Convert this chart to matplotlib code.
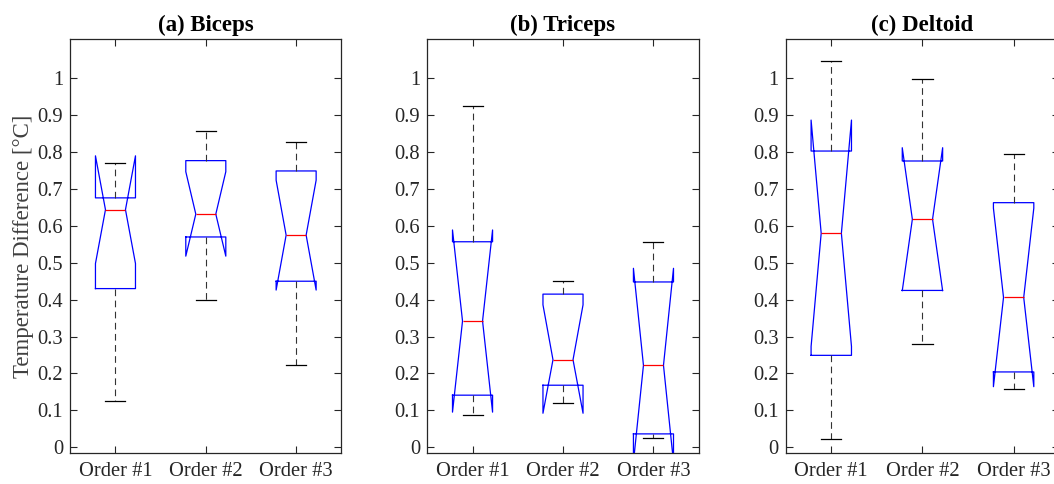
import matplotlib.pyplot as plt

plt.rcParams['font.family'] = ['Liberation Serif', 'DejaVu Serif']

# --- Box statistics per muscle (Order #1, #2, #3) ---
titles = ['(a) Biceps', '(b) Triceps', '(c) Deltoid']
orders = ['Order #1', 'Order #2', 'Order #3']

biceps_q1 = [0.430, 0.570, 0.450]
biceps_med = [0.644, 0.632, 0.575]
biceps_q3 = [0.676, 0.777, 0.749]
biceps_lo = [0.125, 0.398, 0.224]
biceps_hi = [0.770, 0.857, 0.827]
biceps_cilo = [0.498, 0.518, 0.426]
biceps_cihi = [0.790, 0.747, 0.724]

triceps_q1 = [0.141, 0.168, 0.036]
triceps_med = [0.342, 0.237, 0.222]
triceps_q3 = [0.557, 0.415, 0.448]
triceps_lo = [0.086, 0.121, 0.024]
triceps_hi = [0.926, 0.451, 0.555]
triceps_cilo = [0.095, 0.092, -0.041]
triceps_cihi = [0.589, 0.386, 0.485]

deltoid_q1 = [0.249, 0.425, 0.204]
deltoid_med = [0.580, 0.618, 0.406]
deltoid_q3 = [0.803, 0.776, 0.663]
deltoid_lo = [0.023, 0.279, 0.157]
deltoid_hi = [1.048, 0.999, 0.795]
deltoid_cilo = [0.273, 0.424, 0.164]
deltoid_cihi = [0.887, 0.812, 0.648]

yticks = [0, 0.1, 0.2, 0.3, 0.4, 0.5, 0.6, 0.7, 0.8, 0.9, 1]
ytick_labels = ['0', '0.1', '0.2', '0.3', '0.4', '0.5', '0.6', '0.7', '0.8', '0.9', '1']

panels = [
    (biceps_q1, biceps_med, biceps_q3, biceps_lo, biceps_hi, biceps_cilo, biceps_cihi),
    (triceps_q1, triceps_med, triceps_q3, triceps_lo, triceps_hi, triceps_cilo, triceps_cihi),
    (deltoid_q1, deltoid_med, deltoid_q3, deltoid_lo, deltoid_hi, deltoid_cilo, deltoid_cihi),
]

dark = '#262626'
W, H = 1054, 484
fig = plt.figure(figsize=(W / 100, H / 100), dpi=100)

# axes rectangles in pixels; the last one runs a little past the right edge
lefts = [70.3, 427.3, 785.7]
widths = [271.0, 271.4, 273.5]
top, bottom = 39.3, 452.7

for i, (q1, med, q3, lo, hi, cilo, cihi) in enumerate(panels):
    ax = fig.add_axes([lefts[i] / W, 1 - bottom / H, widths[i] / W, (bottom - top) / H])
    stats = []
    for k in range(3):
        stats.append(dict(q1=q1[k], med=med[k], q3=q3[k], whislo=lo[k],
                          whishi=hi[k], cilo=cilo[k], cihi=cihi[k], fliers=[]))
    ax.bxp(stats, positions=[1, 2, 3], widths=0.443, shownotches=True,
           showfliers=False,
           boxprops=dict(color='blue', linewidth=0.9),
           medianprops=dict(color='red', linewidth=0.9),
           whiskerprops=dict(color='#333333', linewidth=0.8, linestyle=(0, (6, 4))),
           capprops=dict(color='black', linewidth=0.9))

    ax.set_xlim(0.5, 3.5)
    ax.set_ylim(-0.015, 1.106)
    ax.set_xticks([1, 2, 3])
    ax.set_xticklabels(orders)
    ax.set_yticks(yticks)
    ax.set_yticklabels(ytick_labels)
    ax.tick_params(direction='in', length=5, width=0.8, top=True, right=True,
                   labelsize=14.8, colors=dark, pad=5)
    ax.tick_params(axis='x', pad=7)
    for s in ax.spines.values():
        s.set_color(dark)
        s.set_linewidth(0.9)
    ax.set_title(titles[i], fontsize=16.5, fontweight='bold', color='black', pad=6)
    if i == 0:
        ax.set_ylabel('Temperature Difference [°C]', fontsize=16.5, color='#404040',
                      labelpad=3)

fig.savefig('out.png', dpi=100)
